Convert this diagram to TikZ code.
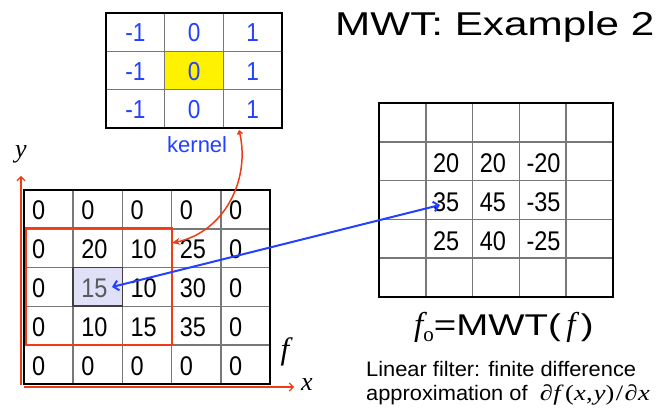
\documentclass[tikz,border=0pt]{standalone}
\usepackage{fontspec}
\setmainfont{Liberation Sans}
\newfontfamily\cellfont{Liberation Sans}[FakeStretch=0.87]
\newfontfamily\widefont{Liberation Sans}[FakeStretch=1.28]
\newfontfamily\lfont{Liberation Sans}[FakeStretch=1.04]
\newfontfamily\kfont{Liberation Sans}[FakeStretch=1.0]
\newfontfamily\serif{Liberation Serif}
\newfontfamily\wserif{Liberation Serif}[FakeStretch=1.2]
\usetikzlibrary{arrows.meta}
\definecolor{myred}{RGB}{240,60,20}
\definecolor{myblue}{RGB}{35,65,255}
\definecolor{lav}{RGB}{224,224,248}
\definecolor{gridgray}{RGB}{120,120,120}
\definecolor{fgray}{RGB}{90,90,90}
\begin{document}
\begin{tikzpicture}[x=1pt,y=-1pt,
  cellnum/.style={anchor=base west, inner sep=0pt, font=\cellfont\fontsize{27}{27}\selectfont},
  knum/.style={anchor=base, inner sep=0pt, text=myblue, font=\cellfont\fontsize{26}{26}\selectfont},
  innerline/.style={draw=gridgray, line width=1.5pt},
  outerline/.style={draw=black, line width=2.5pt},
  label/.style={inner sep=0pt},
]
\useasboundingbox (0,0) rectangle (662,411);
\fill[white] (0,0) rectangle (662,411);

% ---------------- kernel ----------------
\fill[yellow] (164.7,51.3) rectangle (223.4,89.6);
\foreach \i in {1,2} \draw[innerline] ({106+\i*58.7},13) -- ({106+\i*58.7},128);
\foreach \j in {1,2} \draw[innerline] (106,{13+\j*38.3}) -- (282,{13+\j*38.3});
\draw[outerline] (106,13) rectangle (282,128);
\foreach \rowvals [count=\r from 0] in {{-1,0,1},{-1,0,1},{-1,0,1}} {
  \foreach \v [count=\c from 0] in \rowvals {
    \node[knum] (k-\r-\c) at ({106+(\c+0.5)*58.7},{13+\r*38.3+29}) {\v};
  }
}
\node[label, anchor=base west, text=myblue, font=\kfont\fontsize{22}{22}\selectfont] (klabel) at (167,153) {kernel};

% ---------------- input image f ----------------
\fill[lav] (73.2,267.6) rectangle (122.4,306.4);
\foreach \i in {1,...,4} \draw[innerline] ({24+\i*49.2},190) -- ({24+\i*49.2},384);
\foreach \j in {1,...,4} \draw[innerline] (24,{190+\j*38.8}) -- (270,{190+\j*38.8});
\draw[outerline] (24,190) rectangle (270,384);
\draw[draw=fgray!70!black, line width=1.8pt] (73.2,267.6) rectangle (122.4,306.4);
\foreach \rowvals [count=\r from 0] in {{0,0,0,0,0},{0,20,10,25,0},{0,{\color{fgray}15},10,30,0},{0,10,15,35,0},{0,0,0,0,0}} {
  \foreach \v [count=\c from 0] in \rowvals {
    \node[cellnum] (f-\r-\c) at ({24+\c*49.2+8},{190+\r*38.8+30}) {\v};
  }
}
\draw[myred, line width=2pt] (26,228) rectangle (172,345);

% axes
\coordinate (yorig) at (21,385);
\coordinate (yend) at (21,176);
\coordinate (xorig) at (24,387);
\coordinate (xend) at (294,387);
\draw[myred, line width=1.2pt, -{Straight Barb[length=4pt,width=8pt]}] (yorig) -- (yend);
\draw[myred, line width=1.2pt, -{Straight Barb[length=4pt,width=8pt]}] (xorig) -- (xend);
\node[label, font=\serif\itshape\fontsize{26}{26}\selectfont] (ylab) at (21,154) {y};
\node[label, font=\serif\itshape\fontsize{26}{26}\selectfont] (xlab) at (307,385) {x};
\node[label, font=\serif\itshape\fontsize{31}{31}\selectfont] (flab) at (285,352) {f};

% ---------------- output image fo ----------------
\foreach \i in {1,...,4} \draw[innerline] ({379+\i*46.8},103) -- ({379+\i*46.8},297);
\foreach \j in {1,...,4} \draw[innerline] (379,{103+\j*38.8}) -- (613,{103+\j*38.8});
\draw[outerline] (379,103) rectangle (613,297);
\foreach \rowvals [count=\r from 1] in {{20,20,-20},{35,45,-35},{25,40,-25}} {
  \foreach \v [count=\c from 1] in \rowvals {
    \node[cellnum] (o-\r-\c) at ({379+\c*46.8+7},{103+\r*38.8+31}) {\v};
  }
}

% ---------------- texts ----------------
\node[label, anchor=base west, font=\widefont\fontsize{33}{33}\selectfont] (title) at (335,36) {MWT: Example 2};
\node[label, anchor=base, font=\widefont\fontsize{30}{30}\selectfont] (fo) at (504,336)
  {{\serif\itshape\fontsize{33}{33}\selectfont f}\raisebox{-6pt}{\serif\fontsize{21}{21}\selectfont o}=MWT({\serif\itshape\fontsize{33}{33}\selectfont\,f\,})};
\node[label, anchor=base west, font=\lfont\fontsize{21}{21}\selectfont] (line1) at (366,377) {Linear filter: finite difference};
\node[label, anchor=base west, font=\lfont\fontsize{21}{21}\selectfont] (line2) at (366,401)
  {approximation of\ \ {\wserif\fontsize{22}{22}\selectfont ∂\kern0.5pt\textit{f}\kern1.5pt(\textit{x}\kern0.5pt,\kern1pt\textit{y})\kern1.5pt/\kern1.5pt∂\kern0.5pt\textit{x}}};

% ---------------- connectors ----------------
\coordinate (rA) at (239,130);
\coordinate (rB) at (172,243);
\draw[myred, line width=1.5pt, {Straight Barb[length=3pt,width=5pt]}-{Stealth[length=8pt,width=7pt]}]
  (rA) .. controls (251,180) and (224,232) .. (rB);
\coordinate (bA) at (440,205);
\coordinate (bB) at (112,287);
\draw[myblue, line width=2pt, {Straight Barb[length=5pt,width=10pt]}-{Straight Barb[length=5pt,width=10pt]}] (bA) -- (bB);
\end{tikzpicture}
\end{document}
